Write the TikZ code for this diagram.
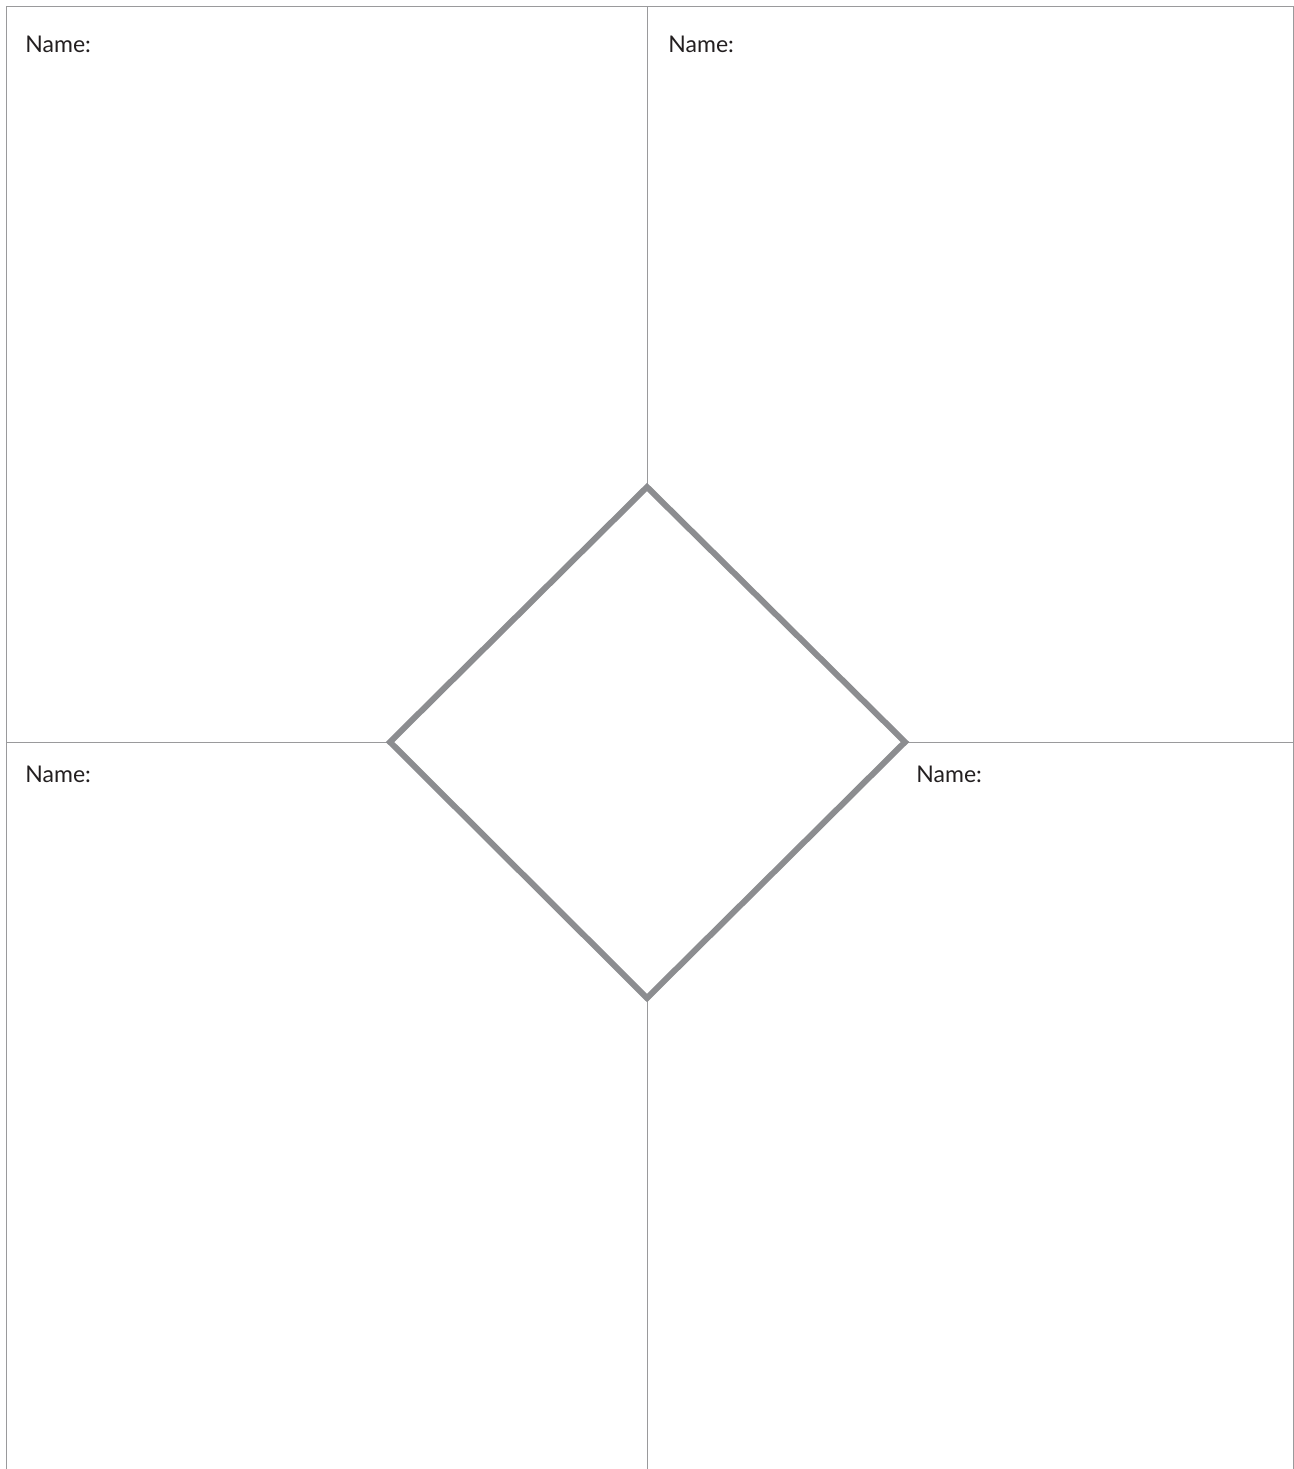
\documentclass[tikz,border=0pt]{standalone}
\usepackage{fontspec}
\setmainfont{Lato}
\usepackage{tikz}
\definecolor{GridLine}{HTML}{9A9A9C}
\definecolor{DiamondLine}{HTML}{8C8D90}
\definecolor{NameText}{HTML}{231F20}

\begin{document}
\begin{tikzpicture}[x=0.5pt,y=-0.5pt,
    gridline/.style={GridLine,line width=0.5pt},
    namelabel/.style={text=NameText,font=\fontsize{11.5}{13}\selectfont,anchor=base west,inner sep=0pt}]
  \useasboundingbox (0,0) rectangle (1294,1469);
  % corners of the middle diamond
  \coordinate (top) at (647,487);
  \coordinate (left) at (390,742);
  \coordinate (right) at (905,742);
  \coordinate (bottom) at (647,998);
  % outer frame, open at the bottom
  \coordinate (frameBL) at (6.5,1469);
  \coordinate (frameTL) at (6.5,6.5);
  \coordinate (frameTR) at (1293,6.5);
  \coordinate (frameBR) at (1293,1469);
  \draw[gridline] (frameBL) -- (frameTL) -- (frameTR) -- (frameBR);
  \coordinate (midTop) at (647,6.5);
  \coordinate (midBottom) at (647,1469);
  \coordinate (midLeft) at (6.5,742);
  \coordinate (midRight) at (1293,742);
  \draw[gridline] (midTop) -- (top);
  \draw[gridline] (bottom) -- (midBottom);
  \draw[gridline] (midLeft) -- (left);
  \draw[gridline] (right) -- (midRight);
  \draw[DiamondLine,line width=3pt,line join=miter] (top) -- (right) -- (bottom) -- (left) -- cycle;
  % labels
  \node[namelabel] (nameTL) at (25,52) {Name:};
  \node[namelabel] (nameTR) at (668,52) {Name:};
  \node[namelabel] (nameBL) at (25,782) {Name:};
  \node[namelabel] (nameBR) at (916,782) {Name:};
\end{tikzpicture}
\end{document}
